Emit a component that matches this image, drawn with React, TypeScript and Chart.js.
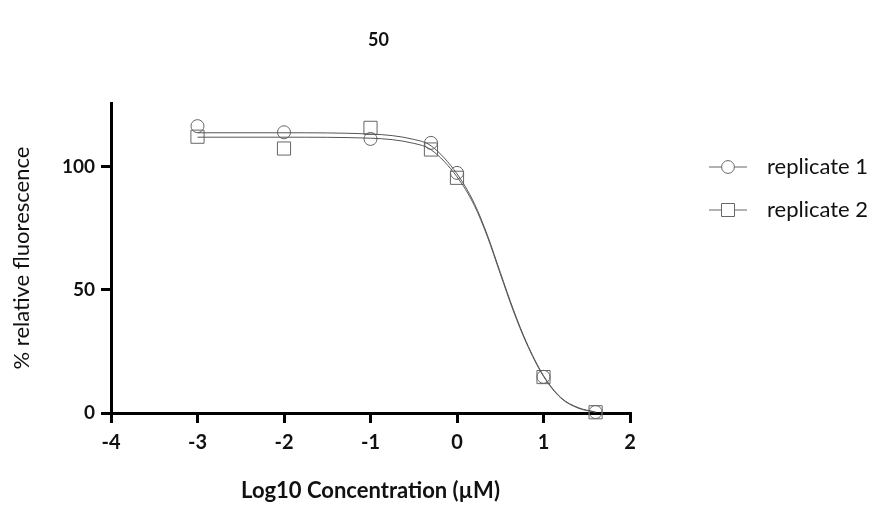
import React, { useEffect, useRef } from "react";
import { Chart, registerables } from "chart.js";

Chart.register(...registerables);

const chartTitle = "50";
const xAxisTitle = "Log10 Concentration (µM)";
const yAxisTitle = "% relative fluorescence";
const seriesNames = ["replicate 1", "replicate 2"];

// measured points (log10 µM)
const logConc = [-3, -2, -1, -0.301, 0, 1, 1.602];
const rep1Values = [116.6, 114.1, 111.4, 109.8, 97.6, 14.7, 0.4];
const rep2Values = [112.3, 107.5, 115.9, 107.1, 95.6, 14.6, 0.3];

// fitted curves
const curveX = [-3, -2, -1, -0.5, -0.3, 0, 0.2, 0.35, 0.5, 0.65, 0.8, 1.0, 1.2, 1.4, 1.602];
const rep1Curve = [113.9, 113.9, 113.4, 111.2, 108.6, 97.2, 85.2, 72.4, 57.2, 42.2, 29.0, 15.2, 6.3, 2.2, 0.4];
const rep2Curve = [112.1, 112.1, 111.7, 109.6, 107.0, 96.0, 84.4, 71.8, 56.6, 41.6, 28.6, 14.9, 6.1, 2.0, 0.3];

const xTicks = [-4, -3, -2, -1, 0, 1, 2];
const yTicks = [0, 50, 100];

const FONT = "Lato, 'Open Sans', sans-serif";
const markerColor = "#666";
const curveColor = "#555";
const textColor = "#111";

const pts = (xs: number[], ys: number[]) => xs.map((x, i) => ({ x, y: ys[i] }));

const overlayPlugin = {
  id: "overlay",
  afterDraw(chart: any) {
    const { ctx, chartArea } = chart;
    ctx.save();
    // title
    ctx.fillStyle = textColor;
    ctx.font = `bold 18px ${FONT}`;
    ctx.textAlign = "center";
    ctx.textBaseline = "middle";
    ctx.fillText(chartTitle, (chartArea.left + chartArea.right) / 2 + 8, 40);
    // legend
    const styles = ["circle", "rect"];
    seriesNames.forEach((name, i) => {
      const y = 167 + i * 43;
      const x0 = chartArea.right + 79;
      const x1 = chartArea.right + 117;
      const cx = (x0 + x1) / 2;
      ctx.strokeStyle = markerColor;
      ctx.lineWidth = 1;
      ctx.beginPath();
      ctx.moveTo(x0, y);
      ctx.lineTo(x1, y);
      ctx.stroke();
      ctx.beginPath();
      if (styles[i] === "circle") {
        ctx.arc(cx, y, 6.4, 0, Math.PI * 2);
      } else {
        ctx.rect(cx - 6.5, y - 6.5, 13, 13);
      }
      ctx.fillStyle = "#fff";
      ctx.fill();
      ctx.stroke();
      ctx.fillStyle = textColor;
      ctx.font = `22px ${FONT}`;
      ctx.textAlign = "left";
      ctx.textBaseline = "middle";
      ctx.fillText(name, chartArea.right + 137, y);
    });
    ctx.restore();
  },
};

export default function App() {
  const canvasRef = useRef<HTMLCanvasElement | null>(null);

  useEffect(() => {
    if (!canvasRef.current) return;
    const chart = new Chart(canvasRef.current, {
      type: "scatter",
      data: {
        datasets: [
          {
            label: seriesNames[0] + " fit",
            data: pts(curveX, rep1Curve),
            showLine: true,
            borderColor: curveColor,
            borderWidth: 1,
            pointRadius: 0,
            cubicInterpolationMode: "monotone",
            clip: false,
          } as any,
          {
            label: seriesNames[1] + " fit",
            data: pts(curveX, rep2Curve),
            showLine: true,
            borderColor: curveColor,
            borderWidth: 1,
            pointRadius: 0,
            cubicInterpolationMode: "monotone",
            clip: false,
          } as any,
          {
            label: seriesNames[0],
            data: pts(logConc, rep1Values),
            showLine: false,
            pointStyle: "circle",
            pointRadius: 6.5,
            pointBorderWidth: 1,
            pointBorderColor: markerColor,
            pointBackgroundColor: "rgba(0,0,0,0)",
            clip: false,
          } as any,
          {
            label: seriesNames[1],
            data: pts(logConc, rep2Values),
            showLine: false,
            pointStyle: "rect",
            pointRadius: 9.3,
            pointBorderWidth: 1,
            pointBorderColor: markerColor,
            pointBackgroundColor: "rgba(0,0,0,0)",
            clip: false,
          } as any,
        ],
      },
      options: {
        animation: false,
        responsive: true,
        maintainAspectRatio: false,
        layout: { padding: { top: 103, right: 247, left: 0, bottom: 0 } },
        plugins: {
          legend: { display: false },
          title: { display: false },
          tooltip: { enabled: false },
        },
        scales: {
          x: {
            type: "linear",
            min: xTicks[0],
            max: xTicks[xTicks.length - 1],
            afterBuildTicks: (s: any) => {
              s.ticks = xTicks.map((v) => ({ value: v }));
            },
            afterFit: (s: any) => {
              s.height = 97;
            },
            ticks: {
              font: { family: FONT, size: 20, weight: "bold" },
              color: textColor,
              padding: 8,
              maxRotation: 0,
            },
            grid: {
              drawOnChartArea: false,
              drawTicks: true,
              tickLength: 10,
              color: "#000",
              lineWidth: 3,
            },
            border: { display: true, color: "#000", width: 3 },
            title: {
              display: true,
              text: xAxisTitle,
              color: textColor,
              font: { family: FONT, size: 22, weight: "bold" },
              padding: { top: 0, bottom: 6 },
            },
          },
          y: {
            type: "linear",
            min: 0,
            max: 126,
            afterBuildTicks: (s: any) => {
              s.ticks = yTicks.map((v) => ({ value: v }));
            },
            afterFit: (s: any) => {
              s.width = 111;
            },
            ticks: {
              font: { family: FONT, size: 19, weight: "bold" },
              color: textColor,
              padding: 6,
            },
            grid: {
              drawOnChartArea: false,
              drawTicks: true,
              tickLength: 10,
              color: "#000",
              lineWidth: 3,
            },
            border: { display: true, color: "#000", width: 3 },
            title: {
              display: true,
              text: yAxisTitle,
              color: textColor,
              font: { family: FONT, size: 22, weight: "normal" },
              padding: { top: 9, bottom: 0 },
            },
          },
        },
      } as any,
      plugins: [overlayPlugin],
    });
    return () => chart.destroy();
  }, []);

  return (
    <div style={{ position: "absolute", left: 0, top: 0, width: 877, height: 510, background: "#fff" }}>
      <canvas ref={canvasRef} />
    </div>
  );
}
